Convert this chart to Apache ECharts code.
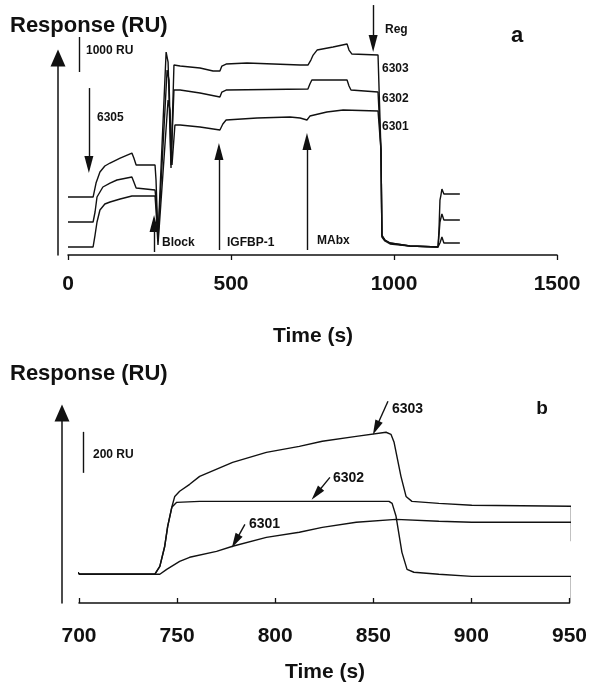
<!DOCTYPE html>
<html>
<head>
<meta charset="utf-8">
<script src="https://cdn.jsdelivr.net/npm/echarts@6/dist/echarts.min.js"></script>
<style>
html,body{margin:0;padding:0;background:#fff;}
#chart{width:590px;height:686px;}
</style>
</head>
<body>
<div id="chart"></div>
<script>
// ---------- Panel a (time in s, response in RU, traces offset) ----------
const ticksA = [0, 500, 1000, 1500];
const timeA_6303 = [0,77,86,98,113,129,160,196,202,209,267,270,276,301,307,316,325,344,405,445,466,472,485,549,712,736,745,752,764,813,856,862,871,951,957,960,963,972,988,1049,1135,1138,1141,1144,1147,1153,1202];
const ruA_6303   = [1657,1657,2057,2371,2543,2629,2771,2914,2771,2571,2571,2143,514,5800,5514,2486,5429,5400,5343,5257,5257,5400,5457,5486,5429,5429,5571,5714,5857,5943,6029,5857,5743,5714,5686,3000,571,429,343,257,229,714,1571,1714,1886,1743,1743];
const timeA_6302 = [0,77,83,89,107,129,150,196,202,209,267,270,276,304,310,316,325,344,405,466,472,485,736,742,748,856,862,868,951,957,960,963,972,988,1049,1135,1138,1141,1147,1153,1202];
const ruA_6302   = [943,943,1229,1657,1943,2057,2143,2229,2086,1914,1857,1571,429,5286,5000,2571,4714,4714,4629,4514,4657,4714,4743,4886,5000,5000,4829,4714,4657,4629,3000,543,429,343,257,229,571,943,1171,1000,1000];
const timeA_6301 = [0,77,83,89,98,113,129,160,196,267,270,276,307,313,319,328,344,405,466,475,485,580,681,712,733,742,794,844,951,957,960,963,972,988,1049,1135,1141,1147,1153,1202];
const ruA_6301   = [229,229,571,943,1286,1457,1514,1600,1686,1686,1286,286,4429,4143,2571,3714,3714,3657,3571,3743,3857,3914,3943,3914,3857,3971,4086,4143,4114,4114,3000,514,400,314,257,229,343,514,343,343];
const labelsA = ['6303', '6302', '6301'];

// ---------- Panel b ----------
const ticksB = [700, 750, 800, 850, 900, 950];
const timeB_6303 = [697.5,699,700.5,738.6,741.2,743.7,745.2,747.3,748.8,751.3,756.4,761.5,778.3,795.5,812.3,824.0,841.3,856.5,859.0,860.6,864.1,866.7,869.7,883.4,900.2,951.0,951.0];
const ruB_6303   = [-63,10,0,0,39,137,234,327,380,405,439,478,546,595,624,649,673,693,683,644,478,380,356,346,337,332,254];
const timeB_6302 = [697.5,699,700.5,738.6,741.2,743.7,745.2,747.3,749.8,761.5,812.3,858.0,859.6,861.6,864.6,867.2,870.7,883.4,900.2,951.0,951.0];
const ruB_6302   = [-63,10,0,0,39,137,234,327,351,356,356,356,346,283,107,24,10,0,-10,-10,-137];
const timeB_6301 = [697.5,699,700.5,741.2,744.7,751.3,756.4,770.1,778.3,795.5,812.3,824.0,841.3,861.6,883.4,900.2,951.0,951.0];
const ruB_6301   = [-63,10,0,0,24,63,83,112,137,180,205,229,254,268,259,254,254,161];
const labelsB = ['6303', '6302', '6301'];

const FONT = "'Liberation Sans', Arial, Helvetica, sans-serif";
const INK = '#111';

function zip(t, v) { return t.map((x, i) => [x, v[i]]); }

function trace(name, t, v, ax) {
  return {
    name: name, type: 'line', xAxisIndex: ax, yAxisIndex: ax,
    data: zip(t, v), showSymbol: false, symbol: 'none', clip: false,
    lineStyle: { color: INK, width: 1.4 }, silent: true, animation: false
  };
}

function arrow(x0, y0, x1, y1, size) {
  return [
    { coord: [x0, y0], symbol: 'none' },
    { coord: [x1, y1], symbol: 'triangle', symbolSize: size }
  ];
}
function bar(x, y0, y1) {
  return [ { coord: [x, y0], symbol: 'none' }, { coord: [x, y1], symbol: 'none' } ];
}
function marks(ax, list) {
  return {
    name: 'annotations', type: 'line', xAxisIndex: ax, yAxisIndex: ax, data: [],
    silent: true, animation: false, clip: false,
    markLine: { silent: true, animation: false, label: { show: false }, precision: 4,
      lineStyle: { color: INK, width: 1.4, type: 'solid' }, emphasis: { disabled: true },
      data: list }
  };
}

const markA = [
  bar(34, 5230, 6230),                 // 1000 RU scale bar
  arrow(64, 4771, 64, 2586, [9, 17]),  // 6305
  arrow(264, 86, 264, 900, [9, 17]),   // Block
  arrow(463, 143, 463, 2957, [9, 17]), // IGFBP-1
  arrow(733, 143, 733, 3243, [9, 17]), // MAbx
  arrow(936, 7143, 936, 6043, [9, 17]) // Reg
];
const markB = [
  bar(702, 495, 695),                          // 200 RU scale bar
  arrow(857.0, 844, 850.9, 714, [8, 15]),      // 6303
  arrow(827.5, 473, 820.6, 392, [8, 15]),      // 6302
  arrow(784.3, 244, 779.5, 161, [8, 15])       // 6301
];

function xAx(gi, ticks, margin, inside, hidden) {
  return {
    type: 'value', gridIndex: gi, min: ticks[0], max: ticks[ticks.length - 1],
    interval: ticks[1] - ticks[0], show: !hidden,
    axisLine: { show: true, onZero: false, lineStyle: { color: INK, width: 1.5 } },
    axisTick: { show: true, inside: inside, length: 5, lineStyle: { color: INK, width: 1.3 } },
    axisLabel: { show: true, margin: margin, color: INK, fontSize: 21, fontWeight: 'bold', fontFamily: FONT,
      formatter: function (v) { return String(v); } },
    splitLine: { show: false }
  };
}
function yAx(gi, min, max, offset, hidden) {
  return {
    type: 'value', gridIndex: gi, min: min, max: max, offset: offset, show: !hidden,
    axisLine: { show: true, onZero: false, symbol: ['none', 'triangle'], symbolSize: [15, 17],
      lineStyle: { color: INK, width: 1.5 } },
    axisTick: { show: false }, axisLabel: { show: false }, splitLine: { show: false }
  };
}

function txt(x, y, s, size, weight, align) {
  return { type: 'text', x: x, y: y, silent: true,
    style: { text: s, fill: INK, font: (weight || 'normal') + ' ' + size + 'px ' + FONT,
      align: align || 'left', verticalAlign: 'middle' } };
}

// scales: panel a 5630 RU over 197 px; panel b 927 RU over 190 px
const scaleA = 5630 / 197, scaleB = 927 / 190;

const chart = echarts.init(document.getElementById('chart'), null, { renderer: 'canvas' });
chart.setOption({
  backgroundColor: '#fff',
  animation: false,
  grid: [
    { left: 68, right: 33, top: 58, bottom: 431 },
    { left: 79, right: 19, top: 413, bottom: 83 },
    { left: 68, right: 33, top: 0, bottom: 431 },
    { left: 79, right: 19, top: 383, bottom: 83 }
  ],
  xAxis: [ xAx(0, ticksA, 19, false), xAx(1, ticksB, 23, true),
           xAx(2, ticksA, 19, false, true), xAx(3, ticksB, 23, true, true) ],
  yAxis: [ yAx(0, 0, 5630, 10), yAx(1, -140, 787, 17),
           yAx(2, 0, 255 * scaleA, 0, true), yAx(3, -140, -140 + 220 * scaleB, 0, true) ],
  series: [
    trace(labelsA[0], timeA_6303, ruA_6303, 0),
    trace(labelsA[1], timeA_6302, ruA_6302, 0),
    trace(labelsA[2], timeA_6301, ruA_6301, 0),
    trace(labelsB[0], timeB_6303, ruB_6303, 1),
    trace(labelsB[1], timeB_6302, ruB_6302, 1),
    trace(labelsB[2], timeB_6301, ruB_6301, 1),
    marks(2, markA),
    marks(3, markB)
  ],
  graphic: [
    txt(10, 26, 'Response (RU)', 22, 'bold'),
    txt(313, 336, 'Time (s)', 21, 'bold', 'center'),
    txt(517, 36, 'a', 22, 'bold', 'center'),
    txt(86, 51, '1000 RU', 12, 'bold'),
    txt(97, 118, '6305', 12, 'bold'),
    txt(162, 243, 'Block', 12, 'bold'),
    txt(227, 243, 'IGFBP-1', 12, 'bold'),
    txt(317, 241, 'MAbx', 12, 'bold'),
    txt(385, 30, 'Reg', 12, 'bold'),
    txt(382, 69, labelsA[0], 12, 'bold'),
    txt(382, 99, labelsA[1], 12, 'bold'),
    txt(382, 127, labelsA[2], 12, 'bold'),
    txt(10, 374, 'Response (RU)', 22, 'bold'),
    txt(325, 672, 'Time (s)', 21, 'bold', 'center'),
    txt(542, 409, 'b', 19, 'bold', 'center'),
    txt(93, 455, '200 RU', 12, 'bold'),
    txt(392, 409, labelsB[0], 14, 'bold'),
    txt(333, 478, labelsB[1], 14, 'bold'),
    txt(249, 524, labelsB[2], 14, 'bold')
  ]
});
</script>
</body>
</html>
